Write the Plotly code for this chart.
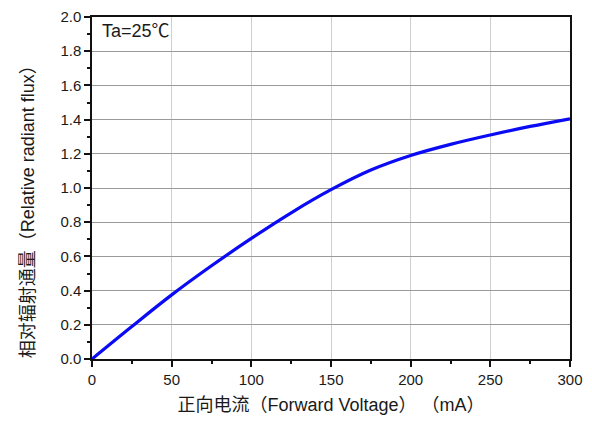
import plotly.graph_objects as go

current_ma = [0, 25, 50, 75, 100, 125, 150, 175, 200, 225, 250, 275, 300]
rel_flux = [0.0, 0.19, 0.375, 0.545, 0.705, 0.855, 0.99, 1.105, 1.19, 1.255, 1.31, 1.36, 1.405]

x_ticks = [0, 50, 100, 150, 200, 250, 300]
x_minor = [25, 75, 125, 175, 225, 275]
y_ticks = [0, 0.2, 0.4, 0.6, 0.8, 1.0, 1.2, 1.4, 1.6, 1.8, 2.0]
y_minor = [0.1, 0.3, 0.5, 0.7, 0.9, 1.1, 1.3, 1.5, 1.7, 1.9]

fig = go.Figure()
fig.add_trace(go.Scatter(x=current_ma, y=rel_flux, mode="lines",
                         line=dict(color="#0a0af5", width=3.2, shape="spline", smoothing=1.0),
                         showlegend=False))

font_main = "Liberation Sans, Arial, Noto Sans CJK SC"
fig.update_layout(
    width=592, height=424,
    margin=dict(l=92, r=22, t=8, b=65),
    paper_bgcolor="white", plot_bgcolor="white",
    font=dict(family=font_main, size=15, color="#1a1a1a"),
    xaxis=dict(range=[0, 300], tickvals=x_ticks,
               ticks="outside", ticklen=6, tickwidth=1.5, tickcolor="#111",
               showline=True, linecolor="#111", linewidth=1.5, mirror=True,
               showgrid=True, gridcolor="#cfcfcf", gridwidth=1,
               minor=dict(tickvals=x_minor, ticks="outside",
                          ticklen=3, tickcolor="#111", showgrid=False),
               zeroline=False,
               title=dict(text="正向电流（Forward Voltage） （mA）", font=dict(size=18), standoff=12)),
    yaxis=dict(range=[0, 2.0], tickvals=y_ticks,
               tickformat=".1f",
               ticks="outside", ticklen=6, tickwidth=1.5, tickcolor="#111",
               showline=True, linecolor="#111", linewidth=1.5, mirror=True,
               showgrid=True, gridcolor="#9a9a9a", gridwidth=1,
               minor=dict(tickvals=y_minor, ticks="outside",
                          ticklen=3, tickcolor="#111", showgrid=False),
               zeroline=False),
    annotations=[
        dict(text="Ta=25℃", xref="paper", yref="paper", x=0.017, y=0.995,
             xanchor="left", yanchor="top", showarrow=False, font=dict(size=18, color="#1a1a1a")),
        dict(text="相对辐射通量（Relative radiant flux）", xref="paper", yref="paper",
             x=-0.135, y=0.445, xanchor="center", yanchor="middle", textangle=-90,
             showarrow=False, font=dict(size=18, color="#1a1a1a")),
    ],
)

fig.write_html("out.html", config={"displayModeBar": False},
               post_script="document.body.style.margin='0';document.body.style.overflow='hidden';")
